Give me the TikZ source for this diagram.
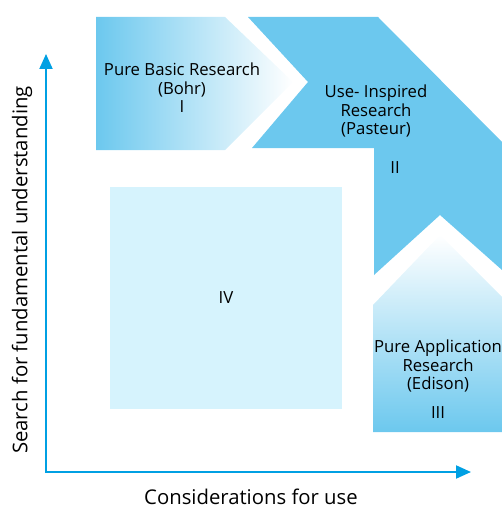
\documentclass[tikz,border=0pt]{standalone}
\usepackage{fontspec}
\setmainfont{Open Sans}
\usetikzlibrary{arrows.meta}
\definecolor{midblue}{RGB}{108,200,238}
\definecolor{paleblue}{RGB}{214,243,253}
\definecolor{axisblue}{RGB}{0,160,227}
\begin{document}
\begin{tikzpicture}[x=1pt,y=-1pt,
    lbl/.style={align=center,font=\fontsize{16.7}{18.5}\selectfont,inner sep=0pt},
    axislbl/.style={font=\fontsize{20.3}{22}\selectfont,inner sep=0pt},
    axis/.style={axisblue,line width=2pt,{Triangle[length=15pt,width=13pt]}-{Triangle[length=15pt,width=13pt]}}]
  \useasboundingbox (0,0) rectangle (502,508);
  % quadrant IV
  \fill[paleblue] (110,187) rectangle (342,409);
  % quadrant I (Bohr)
  \shade[left color=midblue,right color=white]
    (96,17) -- (225,17) -- (293,82) -- (225,150) -- (96,150) -- cycle;
  % quadrant II (Pasteur)
  \fill[midblue] (248,17) -- (378,17) -- (502,142) -- (502,270) -- (440,215)
    -- (374,275) -- (374,148) -- (252,148) -- (308,82) -- cycle;
  % quadrant III (Edison)
  \shade[top color=white,bottom color=midblue]
    (440,235) -- (502,297) -- (502,432) -- (373,432) -- (373,305) -- cycle;
  % axes
  \coordinate (O) at (46,472);
  \coordinate (ytip) at (46,54);
  \coordinate (xtip) at (471,472);
  \draw[axis] (ytip) -- (O) -- (xtip);
  % labels
  \node[lbl] (bohr) at (182,88) {Pure Basic Research\\(Bohr)\\I};
  \node[lbl] (pasteur) at (376,111) {Use- Inspired\\Research\\(Pasteur)};
  \node[lbl] (two) at (395,168) {II};
  \node[lbl] (edison) at (438,366) {Pure Application\\Research\\(Edison)};
  \node[lbl] (three) at (438,413) {III};
  \node[lbl] (four) at (226,298) {IV};
  \node[axislbl,rotate=90] (ylab) at (22,270) {Search for fundamental understanding};
  \node[axislbl] (xlab) at (251,497) {Considerations for use};
\end{tikzpicture}
\end{document}
